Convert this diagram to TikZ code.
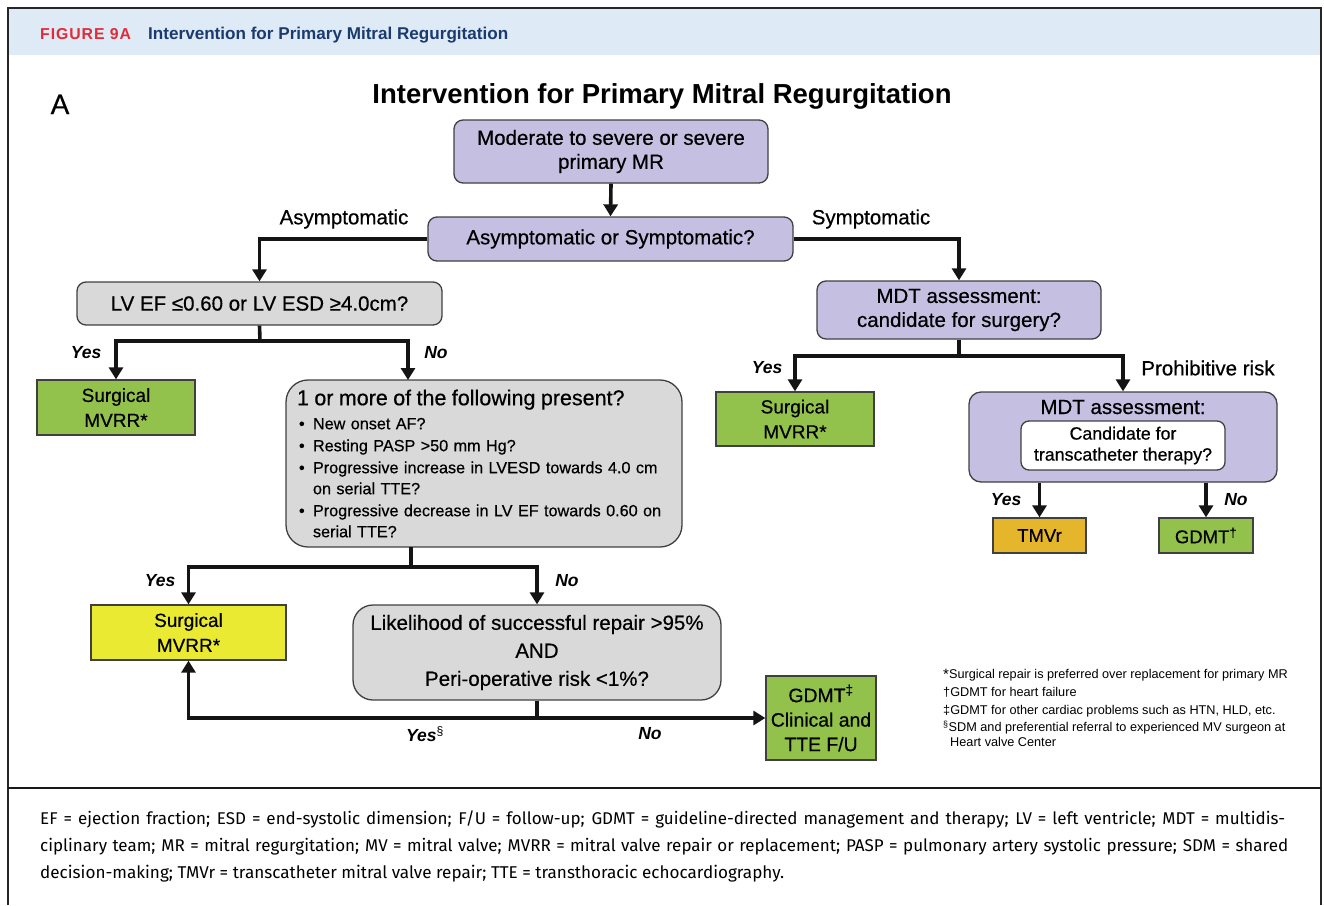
\documentclass[tikz,border=0pt]{standalone}
\usepackage{fontspec}
\setmainfont{Liberation Sans}
\newfontfamily\capfont{Fira Sans}
\newfontfamily\medfont[FakeBold=0.5]{Liberation Sans}
\newfontfamily\hdrfont[LetterSpace=6]{Liberation Sans}
\usetikzlibrary{arrows.meta,calc}
\definecolor{purp}{RGB}{197,191,225}
\definecolor{grayf}{RGB}{217,217,217}
\definecolor{greenf}{RGB}{146,193,76}
\definecolor{yellowf}{RGB}{234,234,50}
\definecolor{orangef}{RGB}{229,181,43}
\definecolor{bord}{RGB}{64,64,64}
\definecolor{hdrband}{RGB}{222,234,246}
\definecolor{figred}{RGB}{226,42,56}
\definecolor{navy}{RGB}{27,58,110}
\newcommand\bxf{\medfont\fontsize{20.5}{24}\selectfont}
\newcommand\smf{\medfont\fontsize{19}{25}\selectfont}
\newcommand\ynf{\fontsize{17.5}{20}\selectfont\bfseries\itshape}
\newcommand\bul{\hspace*{2pt}\makebox[14pt][l]{\textbullet}}
\newcommand\bulc{\hspace*{16pt}}
\tikzset{
  bx/.style={draw=bord, line width=1.3pt, rounded corners=9pt, align=center, inner sep=0pt, font=\bxf},
  pur/.style={bx, fill=purp},
  gry/.style={bx, fill=grayf},
  sq/.style={draw=bord, line width=1.3pt, align=center, inner sep=0pt, font=\smf},
  conn/.style={line width=3.6pt, draw=black!92},
  arr/.style={conn, -{Triangle[length=12pt,width=14pt]}},
  lbl/.style={font=\bxf, inner sep=0pt},
  yn/.style={font=\ynf, inner sep=0pt},
}
\begin{document}
\begin{tikzpicture}[x=1pt,y=-1pt]
\useasboundingbox (0,0) rectangle (1324,905);
% header and frame
\fill[hdrband] (9,9) rectangle (1320,55);
\draw[line width=2pt, draw=black!85] (8,905) -- (8,8) -- (1321,8) -- (1321,905);
\draw[line width=2pt, draw=black!90] (8,788) -- (1321,788);
\node[anchor=base west, inner sep=0, text=figred, font=\hdrfont\fontsize{15.8}{18}\selectfont\bfseries] (fig) at (40,39) {FIGURE 9A};
\node[anchor=base west, inner sep=0, text=navy, font=\fontsize{17.1}{18}\selectfont\bfseries] (hdr) at (148,39) {Intervention for Primary Mitral Regurgitation};
% panel letter and title
\node[anchor=base, inner sep=0, font=\medfont\fontsize{28}{30}\selectfont] (pa) at (60,114) {A};
\node[anchor=base, inner sep=0, font=\fontsize{27.5}{30}\selectfont\bfseries] (title) at (662,103) {Intervention for Primary Mitral Regurgitation};
% boxes
\node[pur, minimum width=314pt, minimum height=63pt] (b1) at (611,151.5) {Moderate to severe or severe\\primary MR};
\node[pur, minimum width=365pt, minimum height=44pt] (b2) at (610.5,239) {Asymptomatic or Symptomatic?};
\node[gry, minimum width=365pt, minimum height=43pt] (lv) at (259.5,303.5) {LV EF ≤0.60 or LV ESD ≥4.0cm?};
\node[sq, fill=greenf, minimum width=158pt, minimum height=55pt] (s1) at (116,407.5) {Surgical\\MVRR*};
\node[gry, rounded corners=22pt, minimum width=396pt, minimum height=167pt, text width=374pt, align=left, font=\medfont\fontsize{16.2}{22}\selectfont] (om) at (484,463.5)
  {{\fontsize{21.5}{25}\selectfont 1 or more of the following present?}\\[2pt]
   \bul New onset AF?\\
   \bul Resting PASP >50 mm Hg?\\
   \bul Progressive increase in LVESD towards 4.0 cm\\[-1pt]
   \bulc on serial TTE?\\
   \bul Progressive decrease in LV EF towards 0.60 on\\[-1pt]
   \bulc serial TTE?};
\node[sq, fill=yellowf, minimum width=195pt, minimum height=55pt] (s2) at (188.5,632.5) {Surgical\\MVRR*};
\node[gry, rounded corners=20pt, minimum width=368pt, minimum height=95pt, font=\medfont\fontsize{20.5}{28}\selectfont] (lk) at (537,652.5) {Likelihood of successful repair >95\%\\AND\\Peri-operative risk <1\%?};
\node[sq, fill=greenf, minimum width=110pt, minimum height=84pt, font=\medfont\fontsize{19.4}{24.5}\selectfont] (g3) at (821,718) {GDMT\textsuperscript{‡}\\Clinical and\\TTE F/U};
\node[pur, minimum width=284pt, minimum height=58pt] (m1) at (959,310) {MDT assessment:\\candidate for surgery?};
\node[sq, fill=greenf, minimum width=158pt, minimum height=54pt] (s3) at (795,419) {Surgical\\MVRR*};
\node[pur, rounded corners=12pt, minimum width=308pt, minimum height=90pt] (m2) at (1123,437) {};
\node[anchor=base, inner sep=0, font=\bxf] (m2t) at (1123,414) {MDT assessment:};
\node[bx, fill=white, rounded corners=8pt, minimum width=204pt, minimum height=49pt, font=\medfont\fontsize{17.8}{21}\selectfont] (m2i) at (1123,445.5) {Candidate for\\transcatheter therapy?};
\node[sq, fill=orangef, minimum width=93pt, minimum height=35pt, font=\medfont\fontsize{18.5}{21}\selectfont] (tm) at (1039.5,535.5) {TMVr};
\node[sq, fill=greenf, minimum width=94pt, minimum height=35pt, font=\medfont\fontsize{18.5}{21}\selectfont] (g2) at (1206,535.5) {GDMT\textsuperscript{†}};
% junction coordinates
\coordinate (lvj) at (260,341);
\coordinate (omo) at (411,547);
\coordinate (omj) at (411,567);
\coordinate (omn) at (408,380);
\coordinate (lkj) at (537,718);
\coordinate (m1j) at (959,356);
% connectors
\draw[arr] (b1.south) -- (b2.north);
\draw[arr] (b2.west) -| (lv.north);
\draw[arr] (b2.east) -| (m1.north);
\draw[conn] (lv.south) -- (lvj);
\draw[arr] (lvj) -| (s1.north);
\draw[arr] (lvj) -| (omn);
\draw[conn] (omo) -- (omj);
\draw[arr] (omj) -| (s2.north);
\draw[arr] (omj) -| (lk.north);
\draw[conn] (lk.south) -- (lkj);
\draw[arr] (lkj) -| (s2.south);
\draw[arr] (lkj) -- (g3.west);
\draw[conn] (m1.south) -- (m1j);
\draw[arr] (m1j) -| (s3.north);
\draw[arr] (m1j) -| (m2.north);
\draw[arr] (m2.south -| tm.north) -- (tm.north);
\draw[arr] (m2.south -| g2.north) -- (g2.north);
% labels
\node[lbl] (la) at (344,219) {Asymptomatic};
\node[lbl] (ls) at (871,219) {Symptomatic};
\node[yn] (y1) at (86,353) {Yes};
\node[yn] (n1) at (436,353) {No};
\node[yn] (y2) at (160,581) {Yes};
\node[yn] (n2) at (567,581) {No};
\node[yn] (y3) at (425,734) {Yes\textsuperscript{\normalfont §}};
\node[yn] (n3) at (650,734) {No};
\node[yn] (y4) at (767,368) {Yes};
\node[lbl] (lp) at (1208,368) {Prohibitive risk};
\node[yn] (y5) at (1006,500) {Yes};
\node[yn] (n5) at (1236,500) {No};
% footnotes
\node[anchor=north west, inner sep=0, align=left, font=\fontsize{12.7}{17.8}\selectfont] (fn) at (943,669)
  {{\fontsize{15}{17}\selectfont\raisebox{-1pt}{*}}Surgical repair is preferred over replacement for primary MR\\
   †GDMT for heart failure\\
   ‡GDMT for other cardiac problems such as HTN, HLD, etc.\\
   \textsuperscript{§}SDM and preferential referral to experienced MV surgeon at\\[-3.5pt]
   \hspace*{7pt}Heart valve Center};
% caption
\node[anchor=base west, inner sep=0, font=\capfont\fontsize{17}{18}\selectfont] (c1) at (40,824) {\makebox[1245pt][s]{EF = ejection fraction; ESD = end-systolic dimension; F/U = follow-up; GDMT = guideline-directed management and therapy; LV = left ventricle; MDT = multidis-}};
\node[anchor=base west, inner sep=0, font=\capfont\fontsize{17}{18}\selectfont] (c2) at (40,851) {\makebox[1248pt][s]{ciplinary team; MR = mitral regurgitation; MV = mitral valve; MVRR = mitral valve repair or replacement; PASP = pulmonary artery systolic pressure; SDM = shared}};
\node[anchor=base west, inner sep=0, font=\capfont\fontsize{17.1}{18}\selectfont] (c3) at (40,878) {decision-making; TMVr = transcatheter mitral valve repair; TTE = transthoracic echocardiography.};
\end{tikzpicture}
\end{document}
